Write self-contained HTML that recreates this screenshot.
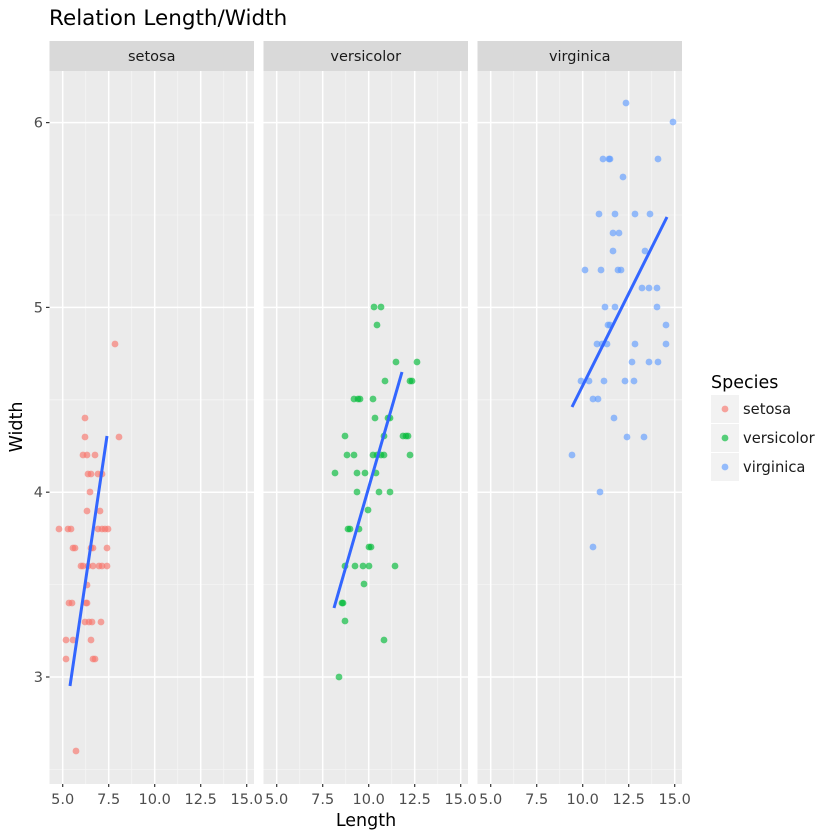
<!DOCTYPE html>
<html><head><meta charset="utf-8"><style>
body{margin:0;background:#fff}
svg{display:block;font-family:"DejaVu Sans","Liberation Sans",sans-serif}
</style></head><body>
<svg id="s" width="840" height="840" xmlns="http://www.w3.org/2000/svg">
<rect width="840" height="840" fill="#fff"/>
<text x="49" y="25" font-size="21.5" fill="#000">Relation Length/Width</text>
<g id="g"></g>
<text x="366" y="826" font-size="17.5" text-anchor="middle" fill="#000">Length</text>
<text transform="translate(22,427) rotate(-90)" font-size="17.5" text-anchor="middle" fill="#000">Width</text>
<text x="711" y="388" font-size="17.5" fill="#000">Species</text>
<rect x="711" y="395" width="28" height="28" fill="#f2f2f2"/>
<rect x="711" y="424" width="28" height="28" fill="#f2f2f2"/>
<rect x="711" y="453" width="28" height="28" fill="#f2f2f2"/>
<circle cx="725" cy="409" r="3.4" fill="#F8766D" fill-opacity="0.65"/>
<circle cx="725" cy="438" r="3.4" fill="#00BA38" fill-opacity="0.65"/>
<circle cx="725" cy="467" r="3.4" fill="#619CFF" fill-opacity="0.65"/>
<text x="743" y="414" font-size="14.7" fill="#1a1a1a">setosa</text>
<text x="743" y="443" font-size="14.7" fill="#1a1a1a">versicolor</text>
<text x="743" y="472" font-size="14.7" fill="#1a1a1a">virginica</text>
</svg>
<script>
var NS="http://www.w3.org/2000/svg",g=document.getElementById("g");
function el(t,a,txt){var e=document.createElementNS(NS,t);for(var k in a)e.setAttribute(k,a[k]);if(txt!=null)e.textContent=txt;g.appendChild(e);return e;}
var names=["setosa","versicolor","virginica"],cols=["#F8766D","#00BA38","#619CFF"];
var T=71,B=784;
function Y(v){return 677-(v-3)*184.8;}
function X(v,p){return 62.7+p*214+(v-5)*18.4;}
for(var p=0;p<3;p++){
 var L=49.5+p*214,R=L+204.5;
 el("rect",{x:L,y:41,width:R-L,height:30,fill:"#d9d9d9"});
 el("text",{x:(L+R)/2,y:61,"font-size":"14.5","text-anchor":"middle",fill:"#1a1a1a"},names[p]);
 el("rect",{x:L,y:T,width:R-L,height:B-T,fill:"#ebebeb"});
 [2.5,3.5,4.5,5.5].forEach(function(v){el("line",{x1:L,x2:R,y1:Y(v),y2:Y(v),stroke:"#f5f5f5","stroke-width":0.8});});
 [6.25,8.75,11.25,13.75].forEach(function(v){el("line",{y1:T,y2:B,x1:X(v,p),x2:X(v,p),stroke:"#f5f5f5","stroke-width":0.8});});
 [3,4,5,6].forEach(function(v){el("line",{x1:L,x2:R,y1:Y(v),y2:Y(v),stroke:"#fff","stroke-width":1.5});});
 [5,7.5,10,12.5,15].forEach(function(v){el("line",{y1:T,y2:B,x1:X(v,p),x2:X(v,p),stroke:"#fff","stroke-width":1.5});
  el("line",{y1:B,y2:B+3,x1:X(v,p),x2:X(v,p),stroke:"#333","stroke-width":1.2});
  el("text",{x:X(v,p),y:804,"font-size":"14.5","text-anchor":"middle",fill:"#4d4d4d"},v.toFixed(1));});
}
[3,4,5,6].forEach(function(v){el("line",{x1:46,x2:49.5,y1:Y(v),y2:Y(v),stroke:"#333","stroke-width":1.2});
 el("text",{x:43,y:Y(v)+5,"font-size":"14.5","text-anchor":"end",fill:"#4d4d4d"},String(v));});
var rows=[
[[344,[115]],[418,[85]],[437,[85,119]],[455,[83,87,95]],[474,[88,91,98,102]],[492,[90]],[511,[87,100]],[529,[59,68,71,98,102,105,108]],[548,[73,75,91,93,107]],[566,[81,83,88,93,99,102,107]],[585,[87]],[603,[69,72,86,87]],[622,[85,89,92,101]],[640,[66,73,91]],[659,[66,93,95]],[751,[76]]],
[[307,[374,381]],[325,[377]],[362,[396,417]],[381,[385,410,412]],[399,[354,358,360,373]],[418,[375,388,390]],[436,[345,384,403,406,408]],[455,[347,354,373,377,381,384,410]],[473,[335,357,365,376]],[492,[357,379,390]],[510,[368]],[529,[348,350,359]],[547,[369,371]],[566,[345,355,363,369,395]],[584,[364]],[603,[342,343]],[621,[345]],[640,[384]],[677,[339]]],
[[103,[626]],[122,[673]],[159,[603,609,610,658]],[177,[623]],[214,[599,615,635,650]],[233,[613,619]],[251,[613,645]],[270,[585,601,618,621]],[288,[642,649,657]],[307,[605,615,657]],[325,[608,610,666]],[344,[597,602,607,635,666]],[362,[632,649,658]],[381,[581,589,604,625,634]],[399,[593,598]],[418,[614]],[437,[627,644]],[455,[572]],[492,[600]],[547,[593]]]];
var lines=[[70,686,107,436],[334,608,402,372],[572,407,667,217]];
for(var q=0;q<3;q++){
 (function(p){
 rows[p].forEach(function(r){r[1].forEach(function(x){el("circle",{cx:x,cy:r[0],r:3.4,fill:cols[p],"fill-opacity":0.65});});});
 var l=lines[p];el("line",{x1:l[0],y1:l[1],x2:l[2],y2:l[3],stroke:"#3366FF","stroke-width":3});
 })(q);
}
</script>
</body></html>
